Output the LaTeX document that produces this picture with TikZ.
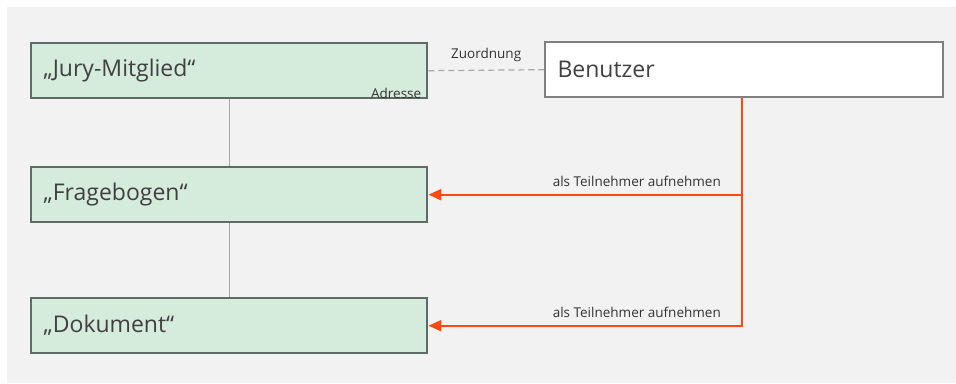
\documentclass[tikz,border=0pt]{standalone}
\usepackage{fontspec}
\setmainfont{Open Sans}
\usetikzlibrary{arrows.meta}
\definecolor{bggray}{HTML}{F2F2F2}
\definecolor{boxgreen}{HTML}{D5EBDB}
\definecolor{boxline}{HTML}{5F6B67}
\definecolor{usrline}{HTML}{808080}
\definecolor{linkred}{HTML}{FF4A14}
\definecolor{linkgray}{HTML}{A8A8A8}
\tikzset{
  entity/.style={draw=boxline, line width=2.4pt, fill=boxgreen, minimum width=396pt,
    minimum height=55pt, anchor=north west, inner sep=0pt},
  usrbox/.style={draw=usrline, line width=2.4pt, fill=white, minimum width=398pt,
    minimum height=55pt, anchor=north west, inner sep=0pt},
  big/.style={font=\fontsize{23}{27}\selectfont, text=black!75, anchor=west},
  small/.style={font=\fontsize{13.5}{16}\selectfont, text=black!80},
  tieline/.style={draw=linkgray, line width=1.2pt},
  take/.style={draw=linkred, line width=2.4pt, -{Triangle[length=13pt,width=11pt]}},
}
\begin{document}
\begin{tikzpicture}[x=1pt,y=-1pt]
  \useasboundingbox (0,0) rectangle (956,383);
  \fill[white] (0,0) rectangle (956,383);
  \fill[bggray] (7,7) rectangle (956,383);
  % Bausteine
  \node[entity] (jury) at (30,42) {};
  \node[entity] (frage) at (30,166) {};
  \node[entity] (doku) at (30,297) {};
  \node[usrbox] (user) at (544,41) {};
  \node[big] at ([xshift=10pt]jury.west) {„Jury-Mitglied“};
  \node[big] at ([xshift=10pt]frage.west) {„Fragebogen“};
  \node[big] at ([xshift=10pt]doku.west) {„Dokument“};
  \node[big] at ([xshift=10pt]user.west) {Benutzer};
  \node[small, anchor=south east, inner sep=2pt] at ([xshift=-5pt,yshift=-1pt]jury.south east) {Adresse};
  % Verbindungen
  \draw[tieline] (jury.south) -- (frage.north);
  \draw[tieline] (frage.south) -- (doku.north);
  \draw[linkgray, line width=1.2pt, dash pattern=on 6pt off 4pt] (jury.east) -- (user.west)
    node[midway, above=5pt, small] {Zuordnung};
  \coordinate (knee) at (742,0);
  \draw[take] (knee |- user.south) -- (knee |- frage.east) -- (frage.east);
  \draw[take] (knee |- frage.east) -- (knee |- doku.east) -- (doku.east);
  \node[small, anchor=south east, inner sep=2pt] at ([xshift=-19pt,yshift=6pt]knee |- frage.east) {als Teilnehmer aufnehmen};
  \node[small, anchor=south east, inner sep=2pt] at ([xshift=-19pt,yshift=6pt]knee |- doku.east) {als Teilnehmer aufnehmen};
\end{tikzpicture}
\end{document}
